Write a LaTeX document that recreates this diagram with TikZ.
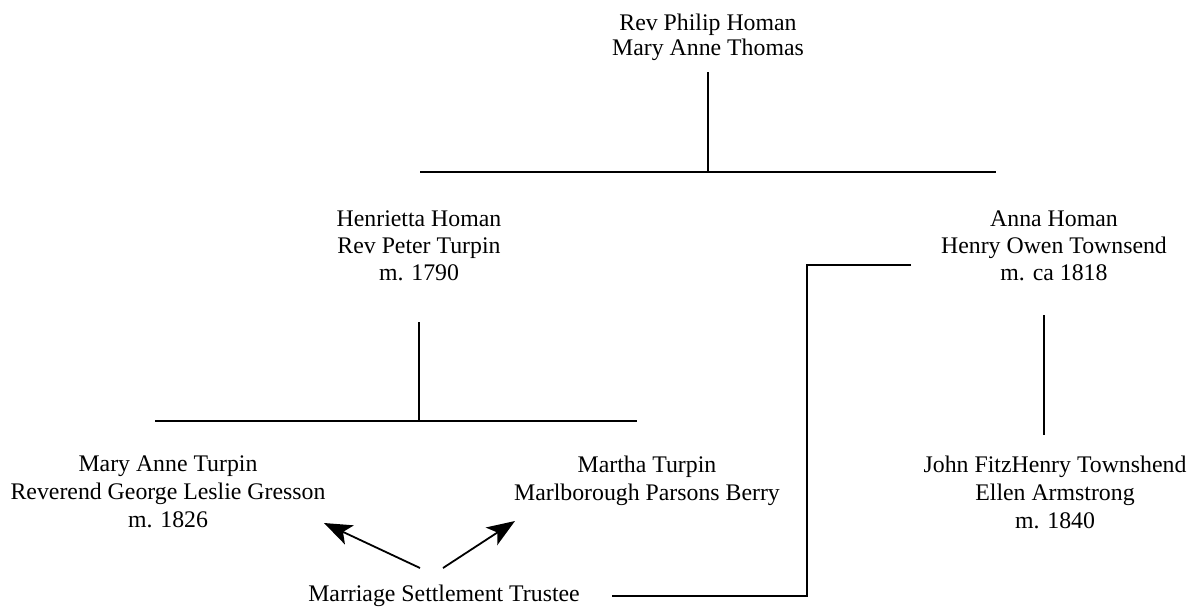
\documentclass[tikz,border=0pt]{standalone}
\usepackage{fontspec}
\setmainfont{Liberation Serif}
\usetikzlibrary{arrows.meta}
\begin{document}
\begin{tikzpicture}[x=1pt,y=-1pt,
  person/.style={align=center,anchor=north,inner sep=0pt,font=\fontsize{23.8}{27}\selectfont},
  tight/.style={font=\fontsize{23.8}{25.5}\selectfont},
  loose/.style={font=\fontsize{23.8}{28}\selectfont},
  tline/.style={line width=1.8pt,draw=black},
  arr/.style={line width=1.8pt,-{Stealth[length=28pt,width=21pt,inset=7pt]}}]
\useasboundingbox (0,0) rectangle (1192,606);
% people
\node[person,tight] (homan) at (708,13.5) {Rev Philip Homan\\Mary Anne Thomas};
\node[person] (henrietta) at (419,210.5) {Henrietta Homan\\Rev Peter Turpin\\m. 1790};
\node[person] (anna) at (1054,210.5) {Anna Homan\\Henry Owen Townsend\\m. ca 1818};
\node[person,loose] (john) at (1055,455.5) {John FitzHenry Townshend\\Ellen Armstrong\\m. 1840};
\node[person,loose] (maryanne) at (168,455.5) {Mary Anne Turpin\\Reverend George Leslie Gresson\\m. 1826};
\node[person,loose] (martha) at (647,455.5) {Martha Turpin\\Marlborough Parsons Berry};
\node[person] (trustee) at (444,584.5) {Marriage Settlement Trustee};
% bars
\coordinate (b1) at (708,172);
\coordinate (b1l) at (420,172);
\coordinate (b1r) at (996,172);
\coordinate (b2) at (419,421);
\coordinate (b2l) at (155,421);
\coordinate (b2r) at (637,421);
\coordinate (a1) at (708,72);
\coordinate (a2) at (419,322);
\coordinate (a3) at (1044,315);
\coordinate (a3e) at (1044,435);
\draw[tline] (a1) -- (b1);
\draw[tline] (b1l) -- (b1r);
\draw[tline] (a2) -- (b2);
\draw[tline] (b2l) -- (b2r);
\draw[tline] (a3) -- (a3e);
% trustee link
\coordinate (t1) at (911,265);
\coordinate (t2) at (807,265);
\coordinate (t3) at (807,596);
\coordinate (t4) at (612,596);
\draw[tline] (t1) -- (t2) -- (t3) -- (t4);
% arrows
\coordinate (s1) at (420,568);
\coordinate (e1) at (324,523);
\coordinate (s2) at (443,568);
\coordinate (e2) at (515,521);
\draw[arr] (s1) -- (e1);
\draw[arr] (s2) -- (e2);
\end{tikzpicture}
\end{document}
